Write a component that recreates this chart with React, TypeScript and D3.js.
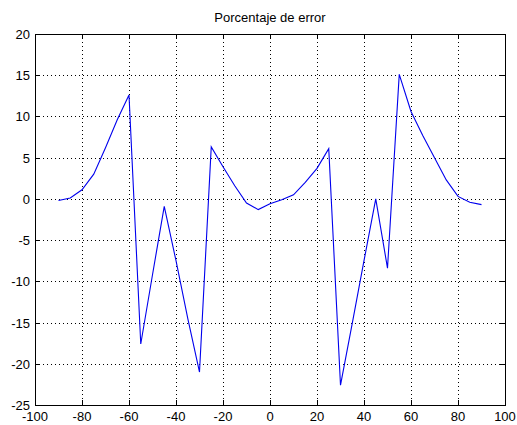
import React from 'react';
import * as d3 from 'd3';

// angle (deg) and error percentage
const angles = [-90, -85, -80, -75, -70, -65, -60, -55, -50, -45, -40, -35, -30, -25, -20, -15, -10, -5, 0,
    5, 10, 15, 20, 25, 30, 35, 40, 45, 50, 55, 60, 65, 70, 75, 80, 85, 90];
const errors = [-0.2, 0.1, 1.1, 3.0, 6.2, 9.6, 12.6, -17.6, -9.2, -0.9, -7.5, -14.5, -21.0, 6.3, 3.9, 1.6, -0.5, -1.3, -0.6,
    -0.1, 0.5, 2.0, 3.7, 6.1, -22.6, -15.1, -7.5, 0.0, -8.4, 15.1, 10.6, 7.7, 5.0, 2.3, 0.3, -0.4, -0.7];
const xTicks = [-100, -80, -60, -40, -20, 0, 20, 40, 60, 80, 100];
const yTicks = [-25, -20, -15, -10, -5, 0, 5, 10, 15, 20];
const title = 'Porcentaje de error';

const W = 517, H = 425;
const margin = {left: 35, right: 12, top: 34, bottom: 20};
const font = '"Liberation Sans", Arial, sans-serif';
const fontSize = 13;

export default function App() {
    const x = d3.scaleLinear().domain([-100, 100]).range([margin.left, W - margin.right]);
    const y = d3.scaleLinear().domain([-25, 20]).range([H - margin.bottom, margin.top]);
    const x0 = x.range()[0], x1 = x.range()[1];
    const y0 = y.range()[1], y1 = y.range()[0];
    const tick = 5;
    const py = (v: number) => Math.round(y(v)) + 0.5;
    const px = (v: number) => Math.round(x(v)) + 0.5;

    const line = d3.line<number>()
        .x((_, i) => x(angles[i]))
        .y((v) => y(v));

    return (
        <svg width={W} height={H} xmlns="http://www.w3.org/2000/svg"
            style={{position: 'absolute', left: 0, top: 0, background: '#fff'}}>
            <rect x={0} y={0} width={W} height={H} fill="#fff" />
            {/* dotted grid */}
            {xTicks.slice(1, -1).map((v) =>
                <line key={`gx${v}`} x1={px(v)} x2={px(v)} y1={y0} y2={y1}
                    stroke="#000" strokeWidth={1} strokeDasharray="1,3" />
            )}
            {yTicks.slice(1, -1).map((v) =>
                <line key={`gy${v}`} x1={x0} x2={x1} y1={py(v)} y2={py(v)}
                    stroke="#000" strokeWidth={1} strokeDasharray="1,3" />
            )}
            {/* ticks on all four sides */}
            {xTicks.map((v) =>
                <g key={`tx${v}`}>
                    <line x1={px(v)} x2={px(v)} y1={y1} y2={y1 - tick} stroke="#000" />
                    <line x1={px(v)} x2={px(v)} y1={y0} y2={y0 + tick} stroke="#000" />
                    <text x={x(v)} y={y1 + 16} textAnchor="middle" fontFamily={font} fontSize={fontSize} fill="#000">{v}</text>
                </g>
            )}
            {yTicks.map((v) =>
                <g key={`ty${v}`}>
                    <line x1={x0} x2={x0 + tick} y1={py(v)} y2={py(v)} stroke="#000" />
                    <line x1={x1} x2={x1 - tick} y1={py(v)} y2={py(v)} stroke="#000" />
                    <text x={x0 - 5} y={y(v) + 5} textAnchor="end" fontFamily={font} fontSize={fontSize} fill="#000">{v}</text>
                </g>
            )}
            <path d={line(errors) || ''} fill="none" stroke="#0000ee" strokeWidth={1.1} />
            <rect x={x0 + 0.5} y={y0 + 0.5} width={x1 - x0} height={y1 - y0} fill="none" stroke="#000" strokeWidth={1} />
            <text x={(x0 + x1) / 2} y={22} textAnchor="middle" fontFamily={font} fontSize={fontSize} fill="#000">{title}</text>
        </svg>
    );
}
